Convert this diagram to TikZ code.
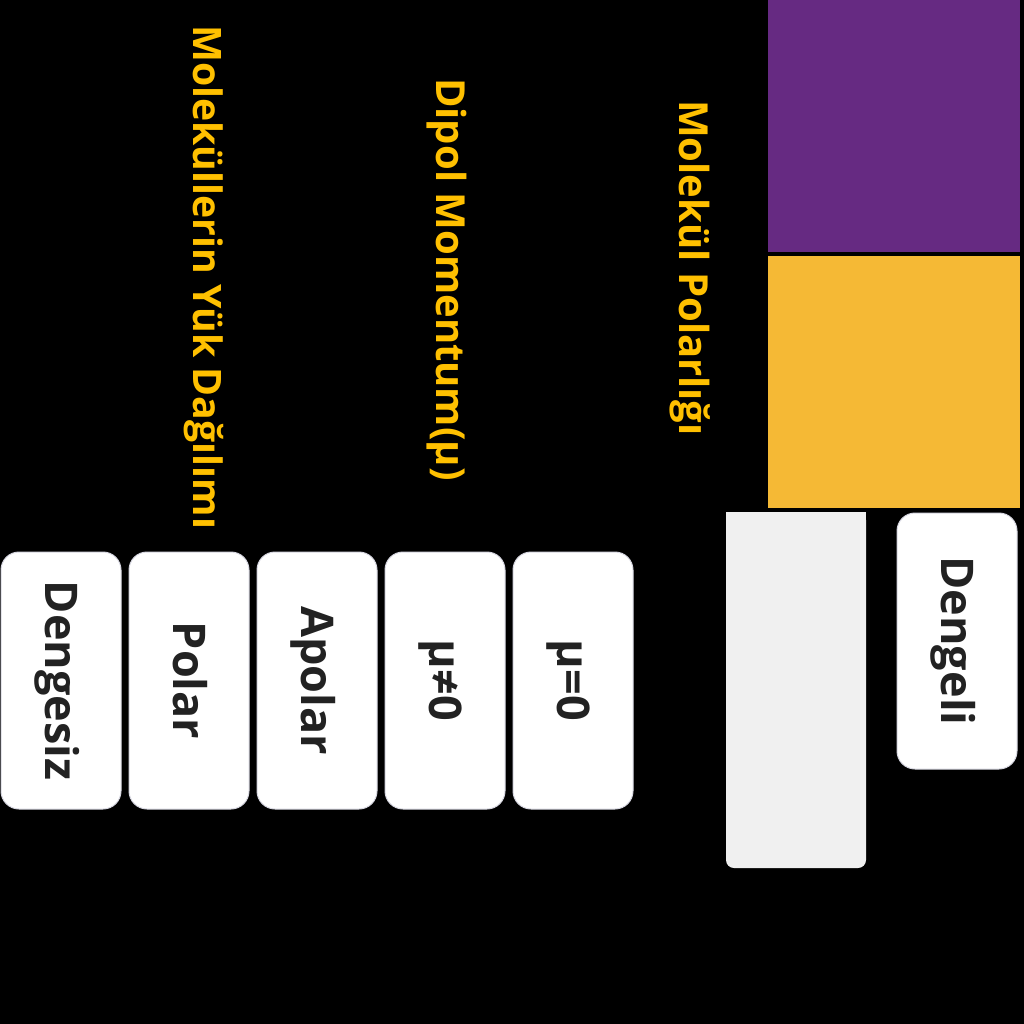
\documentclass[tikz,border=0pt]{standalone}
\usepackage{fontspec}
\setmainfont{Open Sans}
\definecolor{purp}{HTML}{662A82}
\definecolor{yell}{HTML}{F5B935}
\definecolor{gold}{HTML}{FFC000}
\definecolor{ink}{HTML}{222222}
\definecolor{cardline}{HTML}{D6D6E0}
\definecolor{blankfill}{HTML}{F0F0F0}
\begin{document}
\begin{tikzpicture}[x=1pt,y=-1pt,
  card/.style={draw=cardline, line width=1pt, fill=white, rounded corners=18pt,
    rotate=-90, text=ink, font=\fontsize{45}{54}\selectfont\bfseries,
    inner sep=0pt, text height=32pt, text depth=0pt,
    minimum width=257pt, minimum height=120pt},
  title/.style={rotate=-90, text=gold, font=\fontsize{40}{48}\selectfont\bfseries,
    inner sep=0pt, anchor=base west}]
\useasboundingbox (0,0) rectangle (1024,1024);
\fill[black] (0,0) rectangle (1024,1024);
% colour blocks
\fill[purp] (768,0) rectangle (1020,252);
\fill[yell] (768,256) rectangle (1020,508);
% blank grey panel
\node[fill=blankfill, rounded corners=8pt, inner sep=0pt, minimum width=140pt, minimum height=356pt] (blank) at (796,690) {};
\fill[blankfill] (726,512) rectangle (866,540);
% titles
\node[title, font=\fontsize{39.2}{47}\selectfont\bfseries] (t1) at (193,25) {Moleküllerin Yük Dağılımı};
\node[title] (t2) at (436,78) {Dipol Momentum(µ)};
\node[title] (t3) at (679,100) {Molekül Polarlığı};
% cards
\node[card] (c1) at (61,680.5) {Dengesiz};
\node[card] (c2) at (189,680.5) {Polar};
\node[card] (c3) at (317,680.5) {Apolar};
\node[card] (c4) at (445,680.5) {µ≠0};
\node[card] (c5) at (573,680.5) {µ=0};
\node[card, minimum width=256pt] (c6) at (957,641) {Dengeli};
\end{tikzpicture}
\end{document}
